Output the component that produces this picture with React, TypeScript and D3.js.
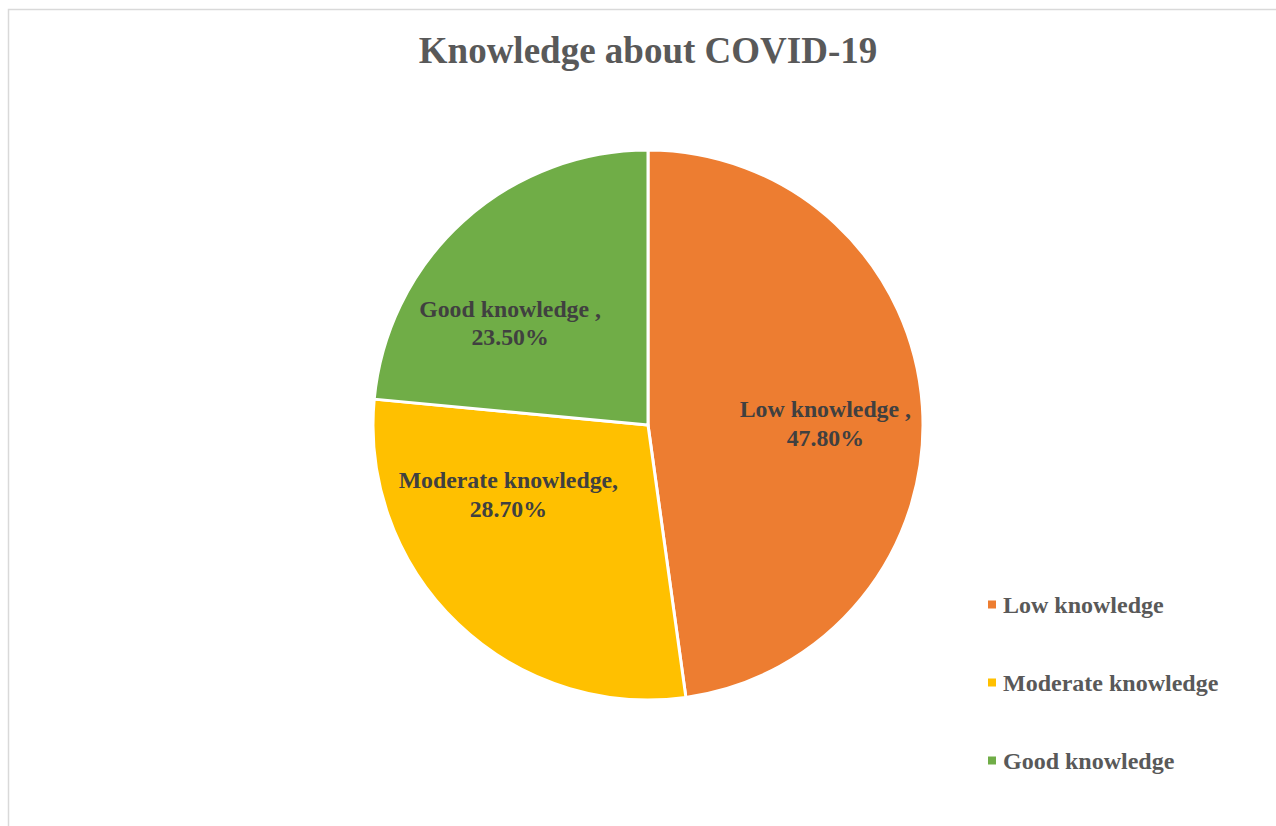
import React from "react";
import * as d3 from "d3";

const categories = ["Low knowledge", "Moderate knowledge", "Good knowledge"];
const values = [47.8, 28.7, 23.5];
const labelTexts = [["Low knowledge ,", "47.80%"], ["Moderate knowledge,", "28.70%"], ["Good knowledge ,", "23.50%"]];
const colors = ["#ED7D31", "#FFC000", "#70AD47"];
const title = "Knowledge about COVID-19";

// label placement (angle in degrees clockwise from top, radius fraction)
const labelPolar = [
  { a: 90, r: 0.645 },
  { a: 243, r: 0.57 },
  { a: 306, r: 0.62 },
];

export default function App() {
  const W = 1276, H = 826;
  const cx = 648, cy = 425, R = 275;
  const pie = d3.pie<number>().sort(null).value((d) => d);
  const arcs = pie(values);
  const arc = d3.arc<d3.PieArcDatum<number>>().innerRadius(0).outerRadius(R);
  const font = "'Liberation Serif', 'Times New Roman', serif";
  const legendY = d3.scalePoint<string>().domain(categories).range([605, 761]);
  return (
    <svg width={W} height={H} style={{ position: "absolute", left: 0, top: 0 }}>
      <rect x={8.5} y={9.5} width={W + 20} height={H + 20} fill="#fff" stroke="#d9d9d9" strokeWidth={1.5} />
      <text x={cx} y={63} textAnchor="middle" fontFamily={font} fontWeight="bold" fontSize={37} fill="#595959">
        {title}
      </text>
      <g transform={`translate(${cx},${cy})`}>
        {arcs.map((a, i) => (
          <path key={i} d={arc(a) || ""} fill={colors[i]} stroke="#fff" strokeWidth={3} strokeLinejoin="round" />
        ))}
        {labelTexts.map((lines, i) => {
          const ang = (labelPolar[i].a * Math.PI) / 180;
          const rr = labelPolar[i].r * R;
          const x = Math.sin(ang) * rr;
          const y = -Math.cos(ang) * rr;
          return (
            <text key={i} x={x} y={y} textAnchor="middle" fontFamily={font} fontWeight="bold" fontSize={23.8} fill="#404040">
              <tspan x={x} dy={-8}>{lines[0]}</tspan>
              <tspan x={x} dy={28.5}>{lines[1]}</tspan>
            </text>
          );
        })}
      </g>
      {categories.map((c, i) => (
        <g key={c} transform={`translate(988,${legendY(c)})`}>
          <rect x={0} y={-4.5} width={8} height={8} fill={colors[i]} />
          <text x={15} y={8} fontFamily={font} fontWeight="bold" fontSize={24} fill="#595959">{c}</text>
        </g>
      ))}
    </svg>
  );
}
